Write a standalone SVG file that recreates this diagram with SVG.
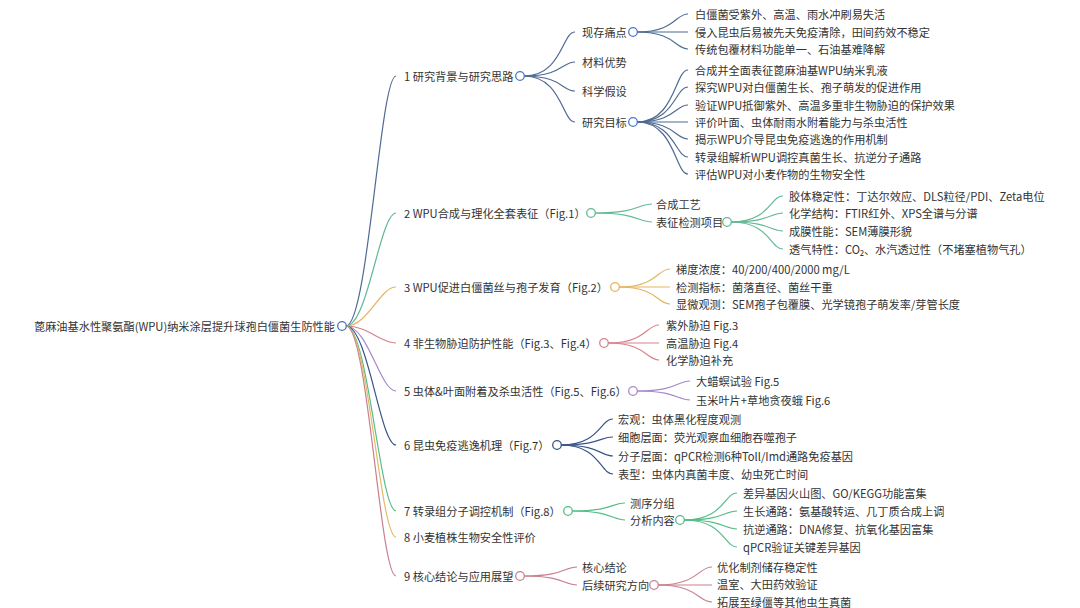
<svg xmlns="http://www.w3.org/2000/svg" width="1080" height="608" viewBox="0 0 1080 608">
<style>
text{font-family:"Noto Sans CJK SC","Noto Sans",sans-serif;font-size:11.2px;fill:#333;dominant-baseline:central}
.c{fill:none;stroke-width:1.2}
.hub{fill:#fff;stroke-width:1.3}
.b1{stroke:#4f6b92}.b2{stroke:#63b995}.b3{stroke:#e6b35e}.b4{stroke:#d9818c}.b5{stroke:#a889c9}.b6{stroke:#3a5687}.b7{stroke:#55bd87}.b8{stroke:#e3bb68}.b9{stroke:#c9808f}
.h1{stroke:#4b78cc}.h0{stroke:#4a72c4}
</style>
<rect width="1080" height="608" fill="#fff"/>
<g id="connectors">
<!-- root -->
<path class="c b1" d="M346 326 C368 326 380 76 396 76"/>
<path class="c b2" d="M346 326 C368 326 380 213 396 213"/>
<path class="c b3" d="M346 326 C368 326 380 287 396 287"/>
<path class="c b4" d="M346 326 C368 326 380 343 396 343"/>
<path class="c b5" d="M346 326 C368 326 380 391 396 391"/>
<path class="c b6" d="M346 326 C368 326 380 445 396 445"/>
<path class="c b7" d="M346 326 C368 326 380 511 396 511"/>
<path class="c b8" d="M346 326 C368 326 380 537 396 537"/>
<path class="c b9" d="M346 326 C368 326 380 576 396 576"/>
<!-- branch 1 -->
<path class="c b1" d="M524 76 C562 76 562 32 575 32"/>
<path class="c b1" d="M524 76 C562 76 562 62 575 62"/>
<path class="c b1" d="M524 76 C562 76 562 91 575 91"/>
<path class="c b1" d="M524 76 C562 76 562 122 575 122"/>
<path class="c b1" d="M637 32 C675 32 675 14 688 14"/>
<path class="c b1" d="M637 32 L688 32"/>
<path class="c b1" d="M637 32 C675 32 675 49 688 49"/>
<path class="c b1" d="M637 122 C675 122 675 70 688 70"/>
<path class="c b1" d="M637 122 C675 122 675 87 688 87"/>
<path class="c b1" d="M637 122 C675 122 675 105 688 105"/>
<path class="c b1" d="M637 122 L688 122"/>
<path class="c b1" d="M637 122 C675 122 675 139 688 139"/>
<path class="c b1" d="M637 122 C675 122 675 157 688 157"/>
<path class="c b1" d="M637 122 C675 122 675 174 688 174"/>
<!-- branch 2 -->
<path class="c b2" d="M595 213 C638 213 638 204 652 204"/>
<path class="c b2" d="M595 213 C638 213 638 222 652 222"/>
<path class="c b2" d="M731 222 C770 222 770 196 783 196"/>
<path class="c b2" d="M731 222 C770 222 770 213 783 213"/>
<path class="c b2" d="M731 222 C770 222 770 231 783 231"/>
<path class="c b2" d="M731 222 C770 222 770 249 783 249"/>
<!-- branch 3 -->
<path class="c b3" d="M619 287 C657 287 657 269 670 269"/>
<path class="c b3" d="M619 287 L670 287"/>
<path class="c b3" d="M619 287 C657 287 657 304 670 304"/>
<!-- branch 4 -->
<path class="c b4" d="M608 343 C646 343 646 325 659 325"/>
<path class="c b4" d="M608 343 L659 343"/>
<path class="c b4" d="M608 343 C646 343 646 360 659 360"/>
<!-- branch 5 -->
<path class="c b5" d="M637 391 C677 391 677 381 690 381"/>
<path class="c b5" d="M637 391 C677 391 677 400 690 400"/>
<!-- branch 6 -->
<path class="c b6" d="M561 445 C600 445 600 419 613 419"/>
<path class="c b6" d="M561 445 C600 445 600 437 613 437"/>
<path class="c b6" d="M561 445 C600 445 600 456 613 456"/>
<path class="c b6" d="M561 445 C600 445 600 474 613 474"/>
<!-- branch 7 -->
<path class="c b7" d="M572 511 C612 511 612 503 625 503"/>
<path class="c b7" d="M572 511 C612 511 612 520 625 520"/>
<path class="c b7" d="M684 520 C724 520 724 493 737 493"/>
<path class="c b7" d="M684 520 C724 520 724 511 737 511"/>
<path class="c b7" d="M684 520 C724 520 724 529 737 529"/>
<path class="c b7" d="M684 520 C724 520 724 547 737 547"/>
<!-- branch 9 -->
<path class="c b9" d="M524 576 C564 576 564 567 577 567"/>
<path class="c b9" d="M524 576 C564 576 564 585 577 585"/>
<path class="c b9" d="M658 585 C698 585 698 567 712 567"/>
<path class="c b9" d="M658 585 L712 585"/>
<path class="c b9" d="M658 585 C698 585 698 602 712 602"/>
</g>
<g id="root"><text x="335" y="326" text-anchor="end">蓖麻油基水性聚氨酯(WPU)纳米涂层提升球孢白僵菌生防性能</text><circle class="hub h0" cx="342" cy="326" r="4.3"/></g>
<g id="n1"><text x="404" y="76">1 研究背景与研究思路</text><circle class="hub h1" cx="520" cy="76" r="4.3"/></g>
<g id="n1a"><text x="582" y="32">现存痛点</text><circle class="hub h1" cx="633" cy="32" r="4.3"/></g>
<g id="n1a1"><text x="695" y="14">白僵菌受紫外、高温、雨水冲刷易失活</text></g>
<g id="n1a2"><text x="695" y="32">侵入昆虫后易被先天免疫清除，田间药效不稳定</text></g>
<g id="n1a3"><text x="695" y="49">传统包覆材料功能单一、石油基难降解</text></g>
<g id="n1b"><text x="582" y="62">材料优势</text></g>
<g id="n1c"><text x="582" y="91">科学假设</text></g>
<g id="n1d"><text x="582" y="122">研究目标</text><circle class="hub h1" cx="633" cy="122" r="4.3"/></g>
<g id="n1d1"><text x="695" y="70">合成并全面表征蓖麻油基WPU纳米乳液</text></g>
<g id="n1d2"><text x="695" y="87">探究WPU对白僵菌生长、孢子萌发的促进作用</text></g>
<g id="n1d3"><text x="695" y="105">验证WPU抵御紫外、高温多重非生物胁迫的保护效果</text></g>
<g id="n1d4"><text x="695" y="122">评价叶面、虫体耐雨水附着能力与杀虫活性</text></g>
<g id="n1d5"><text x="695" y="139">揭示WPU介导昆虫免疫逃逸的作用机制</text></g>
<g id="n1d6"><text x="695" y="157">转录组解析WPU调控真菌生长、抗逆分子通路</text></g>
<g id="n1d7"><text x="695" y="174">评估WPU对小麦作物的生物安全性</text></g>
<g id="n2"><text x="404" y="213">2 WPU合成与理化全套表征（Fig.1）</text><circle class="hub b2" cx="591" cy="213" r="4.3"/></g>
<g id="n2a"><text x="656" y="204">合成工艺</text></g>
<g id="n2b"><text x="656" y="222">表征检测项目</text><circle class="hub b2" cx="727" cy="222" r="4.3"/></g>
<g id="n2b1"><text x="789" y="196">胶体稳定性：丁达尔效应、DLS粒径/PDI、Zeta电位</text></g>
<g id="n2b2"><text x="789" y="213">化学结构：FTIR红外、XPS全谱与分谱</text></g>
<g id="n2b3"><text x="789" y="231">成膜性能：SEM薄膜形貌</text></g>
<g id="n2b4"><text x="789" y="249">透气特性：CO₂、水汽透过性（不堵塞植物气孔）</text></g>
<g id="n3"><text x="404" y="287">3 WPU促进白僵菌丝与孢子发育（Fig.2）</text><circle class="hub b3" cx="615" cy="287" r="4.3"/></g>
<g id="n3a"><text x="676" y="269">梯度浓度：40/200/400/2000 mg/L</text></g>
<g id="n3b"><text x="676" y="287">检测指标：菌落直径、菌丝干重</text></g>
<g id="n3c"><text x="676" y="304">显微观测：SEM孢子包覆膜、光学镜孢子萌发率/芽管长度</text></g>
<g id="n4"><text x="404" y="343">4 非生物胁迫防护性能（Fig.3、Fig.4）</text><circle class="hub b4" cx="604" cy="343" r="4.3"/></g>
<g id="n4a"><text x="666" y="325">紫外胁迫 Fig.3</text></g>
<g id="n4b"><text x="666" y="343">高温胁迫 Fig.4</text></g>
<g id="n4c"><text x="666" y="360">化学胁迫补充</text></g>
<g id="n5"><text x="404" y="391">5 虫体&amp;叶面附着及杀虫活性（Fig.5、Fig.6）</text><circle class="hub b5" cx="633" cy="391" r="4.3"/></g>
<g id="n5a"><text x="696" y="381">大蜡螟试验 Fig.5</text></g>
<g id="n5b"><text x="696" y="400">玉米叶片+草地贪夜蛾 Fig.6</text></g>
<g id="n6"><text x="404" y="445">6 昆虫免疫逃逸机理（Fig.7）</text><circle class="hub b6" cx="557" cy="445" r="4.3"/></g>
<g id="n6a"><text x="618" y="419">宏观：虫体黑化程度观测</text></g>
<g id="n6b"><text x="618" y="437">细胞层面：荧光观察血细胞吞噬孢子</text></g>
<g id="n6c"><text x="618" y="456">分子层面：qPCR检测6种Toll/Imd通路免疫基因</text></g>
<g id="n6d"><text x="618" y="474">表型：虫体内真菌丰度、幼虫死亡时间</text></g>
<g id="n7"><text x="404" y="511">7 转录组分子调控机制（Fig.8）</text><circle class="hub b7" cx="568" cy="511" r="4.3"/></g>
<g id="n7a"><text x="630" y="503">测序分组</text></g>
<g id="n7b"><text x="630" y="520">分析内容</text><circle class="hub b7" cx="680" cy="520" r="4.3"/></g>
<g id="n7b1"><text x="743" y="493">差异基因火山图、GO/KEGG功能富集</text></g>
<g id="n7b2"><text x="743" y="511">生长通路：氨基酸转运、几丁质合成上调</text></g>
<g id="n7b3"><text x="743" y="529">抗逆通路：DNA修复、抗氧化基因富集</text></g>
<g id="n7b4"><text x="743" y="547">qPCR验证关键差异基因</text></g>
<g id="n8"><text x="404" y="537">8 小麦植株生物安全性评价</text></g>
<g id="n9"><text x="404" y="576">9 核心结论与应用展望</text><circle class="hub b9" cx="520" cy="576" r="4.3"/></g>
<g id="n9a"><text x="582" y="567">核心结论</text></g>
<g id="n9b"><text x="582" y="585">后续研究方向</text><circle class="hub b9" cx="654" cy="585" r="4.3"/></g>
<g id="n9b1"><text x="717" y="567">优化制剂储存稳定性</text></g>
<g id="n9b2"><text x="717" y="584">温室、大田药效验证</text></g>
<g id="n9b3"><text x="717" y="602">拓展至绿僵等其他虫生真菌</text></g>
</svg>
